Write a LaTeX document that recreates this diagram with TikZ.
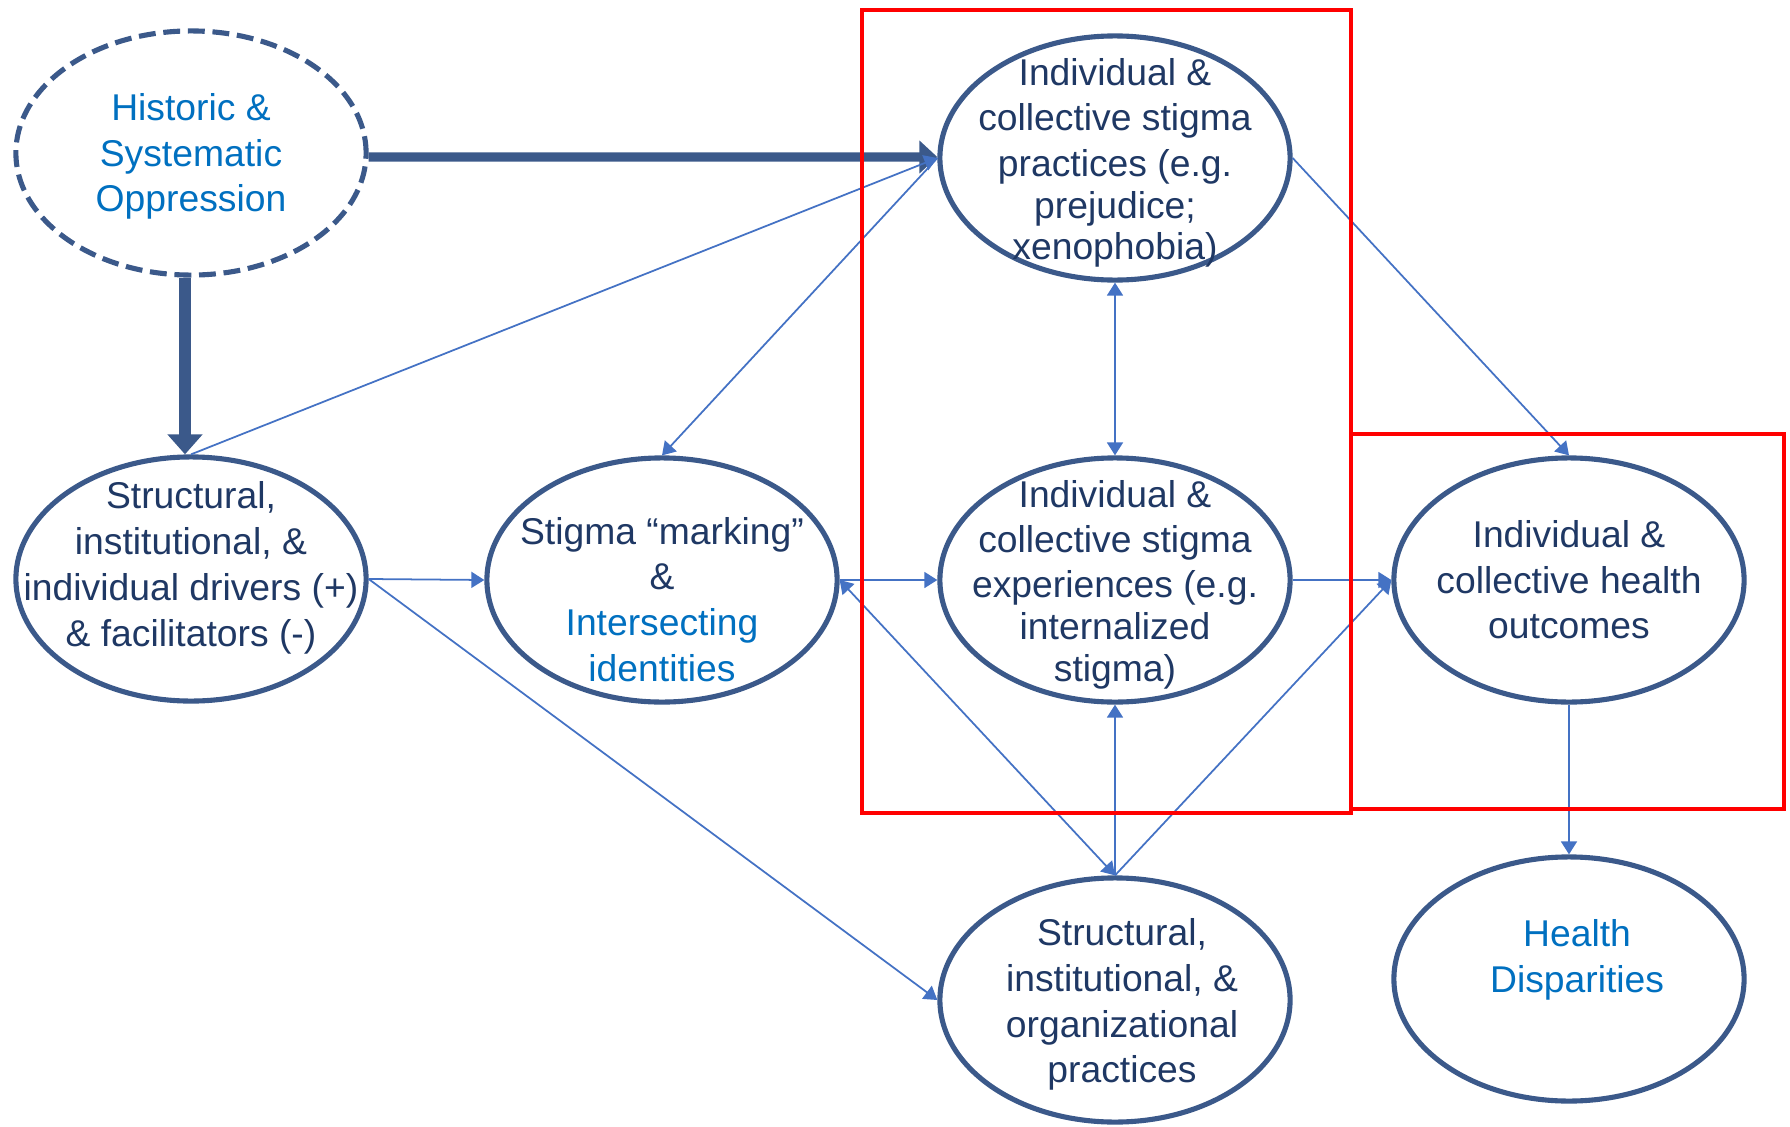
\documentclass[tikz,border=0pt]{standalone}
\usepackage{fontspec}
\setmainfont{Liberation Sans}
\usetikzlibrary{shapes.geometric,arrows.meta,positioning}
\definecolor{myedge}{RGB}{59,89,138}
\definecolor{mytext}{RGB}{31,56,100}
\definecolor{mylight}{RGB}{0,112,192}
\definecolor{myarrow}{RGB}{68,114,196}
\definecolor{myred}{RGB}{255,0,0}
% text that does not widen the ellipse: #1 = twice the x offset, #2 = raise
\newcommand{\blobtext}[3]{\makebox[0pt]{\hspace*{#1}\smash{\raisebox{#2}{%
  \begin{tabular}{@{}c@{}}#3\end{tabular}}}}}

\begin{document}
\begin{tikzpicture}[x=0.01cm,y=-0.01cm,
  blob/.style={ellipse,draw=myedge,line width=1.45pt,fill=white,
    minimum width=3.5cm,minimum height=2.44cm,inner sep=0pt,
    text=mytext,font=\fontsize{10.6}{13}\selectfont},
  dblob/.style={blob,dash pattern=on 4.8pt off 2.2pt},
  tarr/.style={draw=myarrow,line width=0.5pt,-{Triangle[length=1.3mm,width=1.6mm]}},
  darr/.style={tarr,{Triangle[length=1.3mm,width=1.6mm]}-{Triangle[length=1.3mm,width=1.6mm]}},
  barr/.style={draw=myedge,line width=2.6pt,-{Triangle[length=1.8mm,width=3.2mm]}},
  redbox/.style={draw=myred,line width=1.2pt}]

  \useasboundingbox (0,0) rectangle (1790,1127);

  \node[dblob] (hist) at (191,153) {\blobtext{0pt}{-3.9pt}{%
    \color{mylight}Historic \&\\
    \color{mylight}Systematic\\
    \color{mylight}Oppression}};
  \node[blob] (drivers) at (191,579) {\blobtext{0pt}{0.3pt}{%
    Structural,\\
    institutional, \&\\
    individual drivers (+)\\
    \& facilitators (-)}};
  \node[blob] (mark) at (662,580) {\blobtext{0pt}{-9.4pt}{%
    Stigma “marking”\\
    \&\\
    \color{mylight}Intersecting\\
    \color{mylight}identities}};
  \node[blob] (prac) at (1115,158) {\blobtext{0pt}{-4.2pt}{%
    Individual \&\\
    collective stigma\\
    practices (e.g.\\[-1pt]
    prejudice;\\[-1.5pt]
    xenophobia)}};
  \node[blob] (exper) at (1115,580) {\blobtext{0pt}{-4.2pt}{%
    Individual \&\\
    collective stigma\\[-0.3pt]
    experiences (e.g.\\[-1pt]
    internalized\\[-1.2pt]
    stigma)}};
  \node[blob] (outc) at (1569,580) {\blobtext{0pt}{-3.9pt}{%
    Individual \&\\
    collective health\\
    outcomes}};
  \node[blob] (org) at (1115,1000) {\blobtext{4pt}{-4.2pt}{%
    Structural,\\
    institutional, \&\\
    organizational\\
    practices}};
  \node[blob] (disp) at (1569,979) {\blobtext{4.6pt}{2.6pt}{%
    \color{mylight}Health\\
    \color{mylight}Disparities}};

  % heavy arrows from the oppression node
  \draw[barr] ([yshift=-0.04cm]hist.east) -- ([yshift=0.01cm]prac.west);
  \draw[barr,line width=3.5pt,-{Triangle[length=2mm,width=3.4mm]}]
    ([xshift=-0.06cm]hist.south) -- ([xshift=-0.06cm]drivers.north);

  % thin arrows
  \draw[tarr] (drivers.north) -- (prac.west);
  \draw[tarr] (prac.west) -- (mark.north);
  \draw[darr] (prac.south) -- (exper.north);
  \draw[tarr] (prac.east) -- (outc.north);
  \draw[tarr] (drivers.east) -- (mark.west);
  \draw[tarr] (drivers.east) -- (org.west);
  \draw[tarr] (mark.east) -- (exper.west);
  \draw[tarr] (exper.east) -- (outc.west);
  \draw[darr] (org.north) -- (mark.east);
  \draw[tarr] (org.north) -- (exper.south);
  \draw[tarr] (org.north) -- (outc.west);
  \draw[tarr] (outc.south) -- (disp.north);

  % red frames
  \draw[redbox] (862,10) rectangle (1351,813);
  \draw[redbox] (1351,434) rectangle (1784,809);
\end{tikzpicture}
\end{document}
